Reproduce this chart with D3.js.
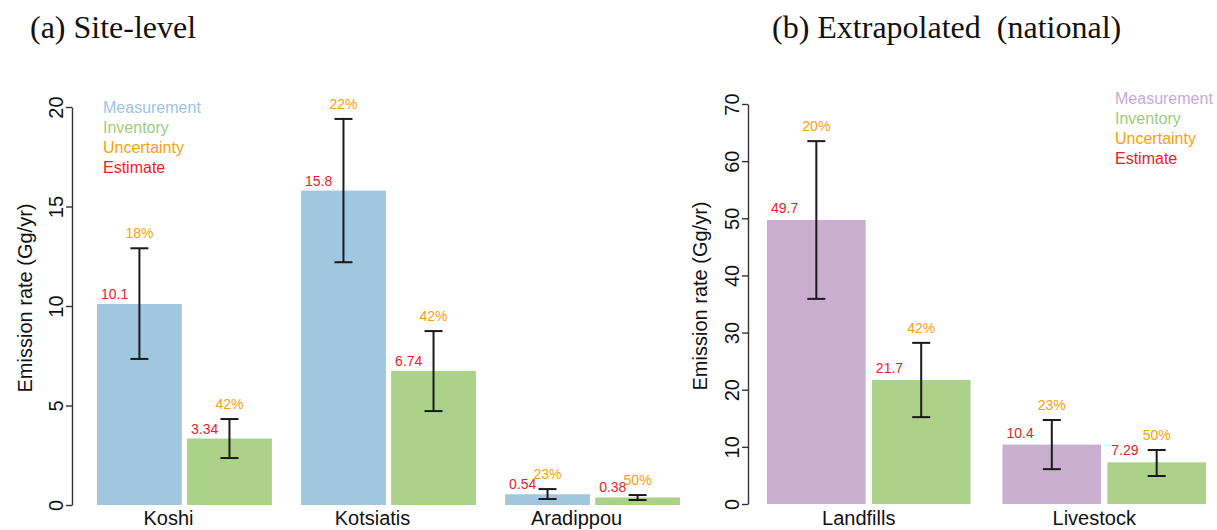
<!DOCTYPE html>
<html><head><meta charset="utf-8">
<script src="https://cdn.jsdelivr.net/npm/d3@7"></script>
<style>
body{margin:0;background:#fff;}
svg{display:block;font-family:"Liberation Sans",Arial,sans-serif;}
</style></head>
<body><svg id="c" width="1217" height="530"></svg>
<script>
// ---- data ----
const siteCategories = ["Koshi", "Kotsiatis", "Aradippou"];
const siteMeasurement = [10.1, 15.8, 0.54];
const siteInventory = [3.34, 6.74, 0.38];
const siteMeasLow = [7.34, 12.2, 0.3];
const siteMeasHigh = [12.9, 19.4, 0.8];
const siteInvLow = [2.36, 4.72, 0.25];
const siteInvHigh = [4.32, 8.74, 0.5];
const siteMeasUnc = ["18%", "22%", "23%"];
const siteInvUnc = ["42%", "42%", "50%"];
const siteTicks = [0, 5, 10, 15, 20];

const natCategories = ["Landfills", "Livestock"];
const natMeasurement = [49.7, 10.4];
const natInventory = [21.7, 7.29];
const natMeasLow = [35.9, 6.1];
const natMeasHigh = [63.5, 14.7];
const natInvLow = [15.2, 4.9];
const natInvHigh = [28.2, 9.45];
const natMeasUnc = ["20%", "23%"];
const natInvUnc = ["42%", "50%"];
const natTicks = [0, 10, 20, 30, 40, 50, 60, 70];

const legendLabels = ["Measurement", "Inventory", "Uncertainty", "Estimate"];
const seriesNames = ["Measurement", "Inventory"];

const svg = d3.select("#c");

function panel(o) {
  const g = svg.append("g");
  const y = d3.scaleLinear().domain([0, o.max]).range([o.y0, o.y1]);
  const x = d3.scaleBand().domain(o.cats).range([o.x0, o.x1]).paddingInner(o.pad).paddingOuter(0);
  const xs = d3.scaleBand().domain(seriesNames).range([0, x.bandwidth()]).paddingInner(o.innerPad);
  const colors = {Measurement: o.measColor, Inventory: "#abd288"};

  // axis
  const ax = g.append("g").attr("transform", `translate(${o.axisX},0)`)
    .call(d3.axisLeft(y).tickValues(o.ticks).tickSize(6).tickSizeOuter(0).tickPadding(0));
  ax.select(".domain").attr("stroke", "#333").attr("stroke-width", 1.4);
  ax.selectAll(".tick line").attr("stroke", "#333").attr("stroke-width", 1.4);
  ax.selectAll(".tick text").remove();
  ax.selectAll(".tick").append("text")
    .attr("transform", "translate(-9,0) rotate(-90)")
    .attr("text-anchor", "middle").attr("fill", "#111")
    .attr("font-size", 20).attr("dy", 0)
    .text(d => d);

  g.append("text")
    .attr("transform", `translate(${o.titleX},${(o.y0 + o.y1) / 2 - 8}) rotate(-90)`)
    .attr("text-anchor", "middle").attr("font-size", 20).attr("fill", "#111")
    .text("Emission rate (Gg/yr)");

  const rows = [];
  o.cats.forEach((c, i) => {
    rows.push({c, s: "Measurement", v: o.meas[i], lo: o.mLo[i], hi: o.mHi[i], u: o.mU[i]});
    rows.push({c, s: "Inventory", v: o.inv[i], lo: o.iLo[i], hi: o.iHi[i], u: o.iU[i]});
  });

  g.selectAll("rect.bar").data(rows).enter().append("rect")
    .attr("x", d => x(d.c) + xs(d.s))
    .attr("width", xs.bandwidth())
    .attr("y", d => y(d.v))
    .attr("height", d => y(0) - y(d.v))
    .attr("fill", d => colors[d.s]);

  const eb = g.selectAll("g.err").data(rows).enter().append("g")
    .attr("stroke", "#1a1a1a").attr("stroke-width", 2);
  const cx = d => x(d.c) + xs(d.s) + xs.bandwidth() / 2;
  eb.append("line").attr("x1", cx).attr("x2", cx).attr("y1", d => y(d.lo)).attr("y2", d => y(d.hi));
  eb.append("line").attr("x1", d => cx(d) - 9).attr("x2", d => cx(d) + 9).attr("y1", d => y(d.lo)).attr("y2", d => y(d.lo));
  eb.append("line").attr("x1", d => cx(d) - 9).attr("x2", d => cx(d) + 9).attr("y1", d => y(d.hi)).attr("y2", d => y(d.hi));

  g.selectAll("text.est").data(rows).enter().append("text")
    .attr("x", d => x(d.c) + xs(d.s) + 4)
    .attr("y", d => y(d.v) - o.estGap)
    .attr("font-size", 14).attr("fill", "#ee1c25")
    .text(d => d.v);

  g.selectAll("text.unc").data(rows).enter().append("text")
    .attr("x", cx)
    .attr("y", d => y(d.hi) - 10)
    .attr("text-anchor", "middle")
    .attr("font-size", 14).attr("fill", "#ff9d0a")
    .text(d => d.u);

  g.selectAll("text.cat").data(o.cats).enter().append("text")
    .attr("x", d => x(d) + x.bandwidth() / 2 + o.catShift)
    .attr("y", 525)
    .attr("text-anchor", "middle").attr("font-size", 20).attr("fill", "#111")
    .text(d => d);

  const legColors = [o.measLegColor, "#9dcc7c", "#ff9d0a", "#ee1c25"];
  g.selectAll("text.leg").data(legendLabels).enter().append("text")
    .attr("x", o.legX)
    .attr("y", (d, i) => o.legY + i * 20)
    .attr("font-size", 16)
    .attr("fill", (d, i) => legColors[i])
    .text(d => d);

  svg.append("text")
    .attr("x", o.headX).attr("y", 38)
    .attr("font-family", "'Liberation Serif','Times New Roman',serif")
    .attr("font-size", 32).attr("fill", "#111")
    .style("white-space", "pre")
    .text(o.head);
}

panel({
  cats: siteCategories, meas: siteMeasurement, inv: siteInventory,
  mLo: siteMeasLow, mHi: siteMeasHigh, iLo: siteInvLow, iHi: siteInvHigh,
  mU: siteMeasUnc, iU: siteInvUnc, ticks: siteTicks, max: 20,
  y0: 505, y1: 107, x0: 97, x1: 680, pad: 0.143, innerPad: 0.058,
  axisX: 72, titleX: 32, measColor: "#a0c6e0", measLegColor: "#9dc4e2",
  estGap: 5, catShift: -16, legX: 103, legY: 113,
  headX: 30, head: "(a) Site-level"
});

panel({
  cats: natCategories, meas: natMeasurement, inv: natInventory,
  mLo: natMeasLow, mHi: natMeasHigh, iLo: natInvLow, iHi: natInvHigh,
  mU: natMeasUnc, iU: natInvUnc, ticks: natTicks, max: 70,
  y0: 504, y1: 104, x0: 767, x1: 1206, pad: 0.1356, innerPad: 0.059,
  axisX: 748, titleX: 707, measColor: "#c9aed0", measLegColor: "#c8a9d6",
  estGap: 7, catShift: -10, legX: 1115, legY: 104,
  headX: 772, head: "(b) Extrapolated  (national)"
});
</script></body></html>
